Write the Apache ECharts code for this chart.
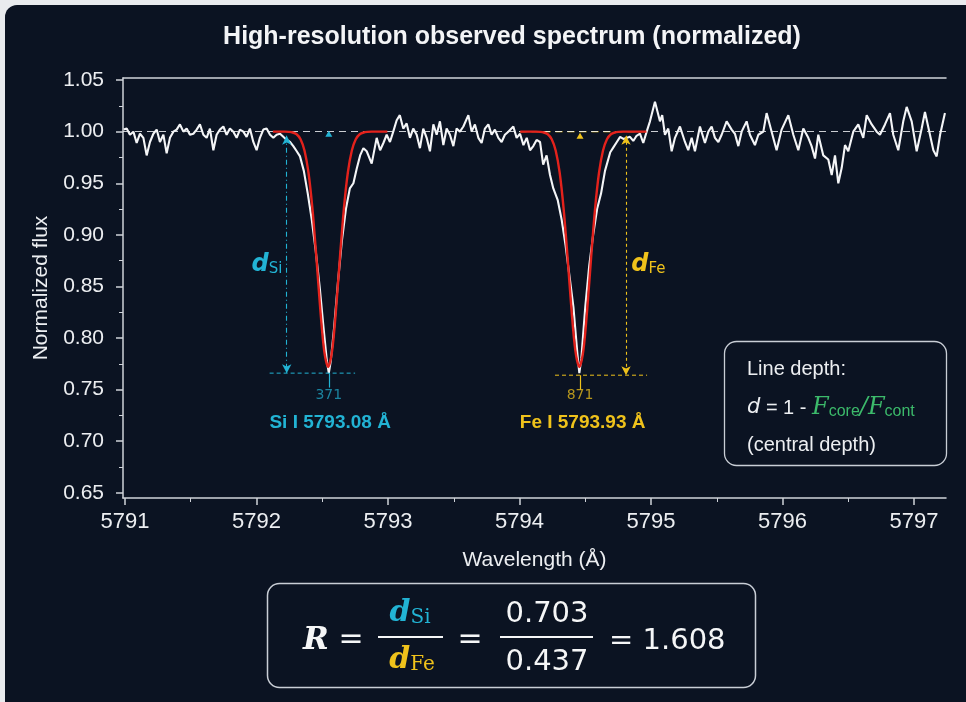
<!DOCTYPE html>
<html>
<head>
<meta charset="utf-8">
<title>High-resolution observed spectrum</title>
<script src="https://cdn.jsdelivr.net/npm/echarts@6.0.0/dist/echarts.min.js"></script>
<style>
  html, body { margin: 0; padding: 0; background: #e9ebee; }
  #panel { position: absolute; left: 5px; top: 5px; width: 980px; height: 720px; border-radius: 12px; background: #0b1322; }
  #chart { position: absolute; left: 0; top: 0; width: 966px; height: 702px; }
</style>
</head>
<body>
<div id="panel"></div>
<div id="chart"></div>
<script>
// axis ticks
const wavelengthTicks = [5791, 5792, 5793, 5794, 5795, 5796, 5797]
const wavelengthMinorTicks = [5791.5, 5792.5, 5793.5, 5794.5, 5795.5, 5796.5]
const fluxTicks = [0.65, 0.70, 0.75, 0.80, 0.85, 0.90, 0.95, 1.00, 1.05]
const fluxMinorTicks = [0.675, 0.725, 0.775, 0.825, 0.875, 0.925, 0.975, 1.025]

// observed spectrum [wavelength, normalized flux]
const spectrum = [
  [5790.99, 1.002], [5791.013, 1.003], [5791.038, 0.997], [5791.064, 1.000], [5791.089, 0.989],
  [5791.114, 0.998], [5791.14, 0.994], [5791.165, 0.977], [5791.19, 0.990], [5791.216, 0.998],
  [5791.241, 1.002], [5791.266, 0.990], [5791.292, 0.997], [5791.317, 0.979], [5791.342, 0.994],
  [5791.368, 1.000], [5791.393, 1.002], [5791.418, 1.007], [5791.444, 1.000], [5791.469, 1.003],
  [5791.494, 0.997], [5791.52, 0.998], [5791.545, 1.002], [5791.57, 1.007], [5791.596, 0.997],
  [5791.621, 0.994], [5791.646, 1.003], [5791.672, 0.982], [5791.697, 0.997], [5791.722, 1.002],
  [5791.748, 1.005], [5791.773, 0.997], [5791.798, 1.003], [5791.824, 1.000], [5791.849, 0.994],
  [5791.874, 1.002], [5791.9, 1.000], [5791.925, 0.995], [5791.95, 1.003], [5791.976, 0.990],
  [5792.001, 0.982], [5792.026, 0.994], [5792.052, 1.002], [5792.077, 1.003], [5792.103, 0.997],
  [5792.128, 0.994], [5792.153, 0.997], [5792.179, 0.998], [5792.204, 0.995], [5792.23, 0.992],
  [5792.255, 0.990], [5792.28, 0.986], [5792.306, 0.981], [5792.331, 0.976], [5792.36, 0.962],
  [5792.39, 0.940], [5792.42, 0.915], [5792.45, 0.885], [5792.48, 0.850], [5792.51, 0.810],
  [5792.535, 0.778], [5792.55, 0.766], [5792.565, 0.778], [5792.59, 0.810], [5792.62, 0.855],
  [5792.65, 0.895], [5792.68, 0.925], [5792.71, 0.945], [5792.737, 0.950], [5792.762, 0.964],
  [5792.788, 0.977], [5792.813, 0.984], [5792.838, 0.981], [5792.876, 0.969], [5792.914, 0.994],
  [5792.94, 0.982], [5792.965, 0.989], [5792.99, 0.997], [5793.015, 0.990], [5793.04, 1.000],
  [5793.066, 1.011], [5793.09, 1.016], [5793.116, 1.003], [5793.142, 1.008], [5793.167, 0.994],
  [5793.192, 1.003], [5793.218, 0.997], [5793.243, 0.984], [5793.268, 1.003], [5793.294, 0.994],
  [5793.319, 0.981], [5793.345, 1.007], [5793.37, 0.997], [5793.395, 1.010], [5793.421, 0.987],
  [5793.446, 1.003], [5793.471, 0.997], [5793.497, 0.986], [5793.522, 1.003], [5793.547, 1.000],
  [5793.573, 1.005], [5793.611, 1.016], [5793.636, 1.000], [5793.661, 1.007], [5793.687, 0.994],
  [5793.712, 0.989], [5793.737, 1.003], [5793.763, 1.007], [5793.788, 0.997], [5793.813, 1.002],
  [5793.839, 0.994], [5793.864, 0.990], [5793.889, 0.997], [5793.915, 1.000], [5793.953, 1.005],
  [5793.978, 0.994], [5794.004, 0.998], [5794.03, 0.987], [5794.055, 0.994], [5794.08, 0.982],
  [5794.105, 0.986], [5794.13, 0.992], [5794.156, 0.990], [5794.18, 0.968], [5794.206, 0.977],
  [5794.232, 0.958], [5794.257, 0.945], [5794.29, 0.934], [5794.32, 0.915], [5794.35, 0.890],
  [5794.38, 0.860], [5794.41, 0.830], [5794.44, 0.785], [5794.455, 0.766], [5794.47, 0.780],
  [5794.50, 0.830], [5794.53, 0.870], [5794.56, 0.900], [5794.59, 0.925], [5794.62, 0.940],
  [5794.65, 0.962], [5794.69, 0.980], [5794.715, 0.985], [5794.74, 0.990], [5794.765, 0.995],
  [5794.79, 0.993], [5794.84, 0.995], [5794.865, 0.991], [5794.89, 0.996], [5794.916, 0.998],
  [5794.941, 0.989], [5794.967, 1.000], [5794.992, 1.010], [5795.03, 1.029], [5795.068, 1.010],
  [5795.085, 1.016], [5795.106, 0.997], [5795.131, 1.003], [5795.157, 0.981], [5795.182, 0.994],
  [5795.22, 1.005], [5795.258, 0.990], [5795.283, 0.982], [5795.309, 0.994], [5795.334, 0.981],
  [5795.372, 1.005], [5795.41, 0.989], [5795.436, 1.000], [5795.461, 1.005], [5795.486, 0.994],
  [5795.512, 0.990], [5795.537, 0.997], [5795.575, 1.010], [5795.613, 1.002], [5795.638, 0.998],
  [5795.664, 0.986], [5795.689, 1.000], [5795.727, 1.010], [5795.752, 0.997], [5795.79, 0.987],
  [5795.816, 0.997], [5795.854, 1.000], [5795.879, 1.018], [5795.917, 1.000], [5795.955, 0.982],
  [5795.993, 1.002], [5796.044, 1.016], [5796.082, 0.997], [5796.12, 0.982], [5796.158, 1.003],
  [5796.196, 0.994], [5796.221, 0.986], [5796.247, 0.974], [5796.272, 0.997], [5796.31, 0.977],
  [5796.348, 0.973], [5796.374, 0.958], [5796.399, 0.977], [5796.424, 0.950], [5796.45, 0.965],
  [5796.475, 0.987], [5796.5, 0.981], [5796.538, 1.000], [5796.576, 1.007], [5796.614, 0.994],
  [5796.64, 1.016], [5796.678, 1.007], [5796.716, 1.000], [5796.741, 0.997], [5796.779, 1.007],
  [5796.817, 1.018], [5796.842, 0.997], [5796.88, 0.982], [5796.918, 1.010], [5796.944, 1.024],
  [5796.982, 1.010], [5797.02, 0.981], [5797.058, 1.003], [5797.083, 1.019], [5797.121, 0.997],
  [5797.147, 0.982], [5797.172, 0.976], [5797.198, 0.997], [5797.235, 1.018]
]

// gaussian fits (red), sampled values
const siFit = [
  [5792.125, 1.000], [5792.155, 1.000], [5792.185, 1.000], [5792.215, 1.000], [5792.245, 0.9998],
  [5792.275, 0.9992], [5792.305, 0.9975], [5792.335, 0.9927], [5792.365, 0.9818], [5792.395, 0.9607],
  [5792.425, 0.9260], [5792.455, 0.8789], [5792.485, 0.8279], [5792.515, 0.7875], [5792.545, 0.7720],
  [5792.575, 0.7875], [5792.605, 0.8279], [5792.635, 0.8789], [5792.665, 0.9260], [5792.695, 0.9607],
  [5792.725, 0.9818], [5792.755, 0.9927], [5792.785, 0.9975], [5792.815, 0.9992], [5792.845, 0.9998],
  [5792.875, 1.000], [5792.905, 1.000], [5792.935, 1.000], [5792.965, 1.000], [5792.995, 1.000]
]
const feFit = [
  [5794.005, 1.000], [5794.035, 1.000], [5794.065, 1.000], [5794.095, 1.000], [5794.125, 1.000],
  [5794.155, 0.9998], [5794.185, 0.9992], [5794.215, 0.9975], [5794.245, 0.9927], [5794.275, 0.9818],
  [5794.305, 0.9607], [5794.335, 0.9260], [5794.365, 0.8789], [5794.395, 0.8279], [5794.425, 0.7875],
  [5794.455, 0.7720], [5794.485, 0.7875], [5794.515, 0.8279], [5794.545, 0.8789], [5794.575, 0.9260],
  [5794.605, 0.9607], [5794.635, 0.9818], [5794.665, 0.9927], [5794.695, 0.9975], [5794.725, 0.9992],
  [5794.755, 0.9998], [5794.785, 1.000], [5794.815, 1.000], [5794.845, 1.000], [5794.875, 1.000],
  [5794.905, 1.000], [5794.935, 1.000], [5794.965, 1.000]
]

// line annotations
const continuum = 1.0
const siCenter = 5792.55
const feCenter = 5794.46
const siCore = 0.766
const feCore = 0.764
const siArrowX = 5792.23
const feArrowX = 5794.81
const siCoreSpan = [5792.10, 5792.75]
const feCoreSpan = [5794.27, 5794.97]
const feContSpan = [5794.0, 5794.95]

const cyan = '#22b3d4'
const yellow = '#efc21b'
const green = '#3cba6b'
const red = '#e3221c'
const axisColor = '#cfd3d9'
const textColor = '#eceef1'

const chart = echarts.init(document.getElementById('chart'))

const xMin = 5790.985
const xMax = 5797.243
const yMin = 0.645
const yMax = 1.052

const plainAxis = {
  axisLine: { show: false },
  axisTick: { show: false },
  axisLabel: { show: false },
  splitLine: { show: false }
}

const option = {
  animation: false,
  backgroundColor: 'transparent',
  grid: { left: 123, right: 20, top: 78, bottom: 204 },
  xAxis: [
    {
      type: 'value', min: xMin, max: xMax, position: 'bottom',
      axisLine: { onZero: false, lineStyle: { color: axisColor, width: 1.5 } },
      axisTick: { customValues: wavelengthTicks, length: 7, lineStyle: { color: axisColor, width: 1.5 } },
      axisLabel: {
        customValues: wavelengthTicks, color: textColor, fontSize: 22, margin: 13, fontFamily: 'Liberation Sans',
        formatter: v => String(Math.round(v))
      },
      splitLine: { show: false },
      name: 'Wavelength (Å)', nameLocation: 'middle', nameGap: 52,
      nameTextStyle: { color: textColor, fontSize: 21, fontFamily: 'Liberation Sans' }
    },
    {
      type: 'value', min: xMin, max: xMax, position: 'bottom',
      axisLine: { show: false, onZero: false },
      axisTick: { customValues: wavelengthMinorTicks, length: 4, lineStyle: { color: axisColor, width: 1 } },
      axisLabel: { show: false },
      splitLine: { show: false }
    },
    Object.assign({ type: 'value', min: xMin, max: xMax, position: 'top' }, plainAxis,
      { axisLine: { show: true, onZero: false, lineStyle: { color: axisColor, width: 1.5 } } })
  ],
  yAxis: [
    {
      type: 'value', min: yMin, max: yMax, position: 'left',
      axisLine: { show: true, onZero: false, lineStyle: { color: axisColor, width: 1.5 } },
      axisTick: { show: true, customValues: fluxTicks, length: 7, lineStyle: { color: axisColor, width: 1.5 } },
      axisLabel: {
        customValues: fluxTicks, color: textColor, fontSize: 21, margin: 19, fontFamily: 'Liberation Sans',
        formatter: v => v.toFixed(2)
      },
      splitLine: { show: false },
      name: 'Normalized flux', nameLocation: 'middle', nameGap: 71,
      nameTextStyle: { color: textColor, fontSize: 21, fontFamily: 'Liberation Sans' }
    },
    {
      type: 'value', min: yMin, max: yMax, position: 'left',
      axisLine: { show: false, onZero: false },
      axisTick: { show: true, customValues: fluxMinorTicks, length: 4, lineStyle: { color: axisColor, width: 1 } },
      axisLabel: { show: false },
      splitLine: { show: false }
    }
  ],
  graphic: [
    {
      type: 'text', x: 512, y: 37, silent: true,
      style: { text: 'High-resolution observed spectrum (normalized)', fill: '#f3f4f6', font: 'bold 25px "Liberation Sans"', align: 'center', verticalAlign: 'middle' }
    },
    // line depth legend box
    { type: 'rect', shape: { x: 724.5, y: 341.5, width: 222, height: 124, r: 12 }, style: { fill: '#0b1322', stroke: '#c9ced6', lineWidth: 1.3 }, silent: true },
    { type: 'text', x: 747, y: 369, silent: true, style: { text: 'Line depth:', fill: textColor, font: '20px "Liberation Sans"', verticalAlign: 'middle' } },
    {
      type: 'text', x: 747, y: 408, silent: true,
      style: {
        text: '{d|d}{t| = 1 - }{F|F}{s|core}{F|/F}{s|cont}',
        verticalAlign: 'middle',
        rich: {
          d: { fill: textColor, font: 'italic 21px "DejaVu Sans"' },
          t: { fill: textColor, font: '20px "Liberation Sans"' },
          F: { fill: green, font: 'italic 24px "DejaVu Serif"' },
          s: { fill: green, font: '16px "Liberation Sans"', lineHeight: 6, verticalAlign: 'bottom' }
        }
      }
    },
    { type: 'text', x: 747, y: 445, silent: true, style: { text: '(central depth)', fill: textColor, font: '20px "Liberation Sans"', verticalAlign: 'middle' } },
    // ratio box
    { type: 'rect', shape: { x: 267.5, y: 583.5, width: 488, height: 104, r: 12 }, style: { fill: '#0b1322', stroke: '#c9ced6', lineWidth: 1.5 }, silent: true },
    { type: 'text', x: 316, y: 641, silent: true, style: { text: 'R', fill: '#f5f6f7', font: 'italic bold 31px "DejaVu Serif"', align: 'center', verticalAlign: 'middle' } },
    { type: 'text', x: 351, y: 640, silent: true, style: { text: '=', fill: '#f5f6f7', font: '30px "DejaVu Sans"', align: 'center', verticalAlign: 'middle' } },
    {
      type: 'text', x: 410, y: 613, silent: true,
      style: {
        text: '{d|d}{s|Si}', align: 'center', verticalAlign: 'middle',
        rich: {
          d: { fill: cyan, font: 'italic bold 30px "DejaVu Serif"' },
          s: { fill: cyan, font: '20px "DejaVu Serif"', lineHeight: 10, verticalAlign: 'bottom' }
        }
      }
    },
    { type: 'line', shape: { x1: 378, y1: 637, x2: 443, y2: 637 }, style: { stroke: '#f5f6f7', lineWidth: 1.8 }, silent: true },
    {
      type: 'text', x: 412, y: 660, silent: true,
      style: {
        text: '{d|d}{s|Fe}', align: 'center', verticalAlign: 'middle',
        rich: {
          d: { fill: yellow, font: 'italic bold 30px "DejaVu Serif"' },
          s: { fill: yellow, font: '20px "DejaVu Serif"', lineHeight: 10, verticalAlign: 'bottom' }
        }
      }
    },
    { type: 'text', x: 470, y: 640, silent: true, style: { text: '=', fill: '#f5f6f7', font: '30px "DejaVu Sans"', align: 'center', verticalAlign: 'middle' } },
    { type: 'text', x: 547, y: 614, silent: true, style: { text: '0.703', fill: '#f5f6f7', font: '29px "DejaVu Sans"', align: 'center', verticalAlign: 'middle' } },
    { type: 'line', shape: { x1: 500, y1: 637, x2: 593, y2: 637 }, style: { stroke: '#f5f6f7', lineWidth: 1.8 }, silent: true },
    { type: 'text', x: 547, y: 662, silent: true, style: { text: '0.437', fill: '#f5f6f7', font: '29px "DejaVu Sans"', align: 'center', verticalAlign: 'middle' } },
    { type: 'text', x: 609, y: 641, silent: true, style: { text: '= 1.608', fill: '#f5f6f7', font: '29px "DejaVu Sans"', verticalAlign: 'middle' } }
  ],
  series: [
    {
      name: 'observed', type: 'line', data: spectrum, showSymbol: false, symbol: 'none', z: 3,
      lineStyle: { color: '#f4f5f7', width: 2.1 },
      markLine: {
        silent: true, symbol: 'none', label: { show: false },
        lineStyle: { color: 'rgba(236,238,241,0.85)', width: 1.2, type: [7, 5] },
        data: [{ yAxis: continuum }]
      }
    },
    {
      name: 'Fe continuum', type: 'line', showSymbol: false, symbol: 'none', z: 4,
      data: [[feContSpan[0], continuum], [feContSpan[1], continuum]],
      lineStyle: { color: yellow, width: 1.3, type: [7, 5] }
    },
    {
      name: 'Si fit', type: 'line', data: siFit, showSymbol: false, symbol: 'none', smooth: 0.3, z: 5,
      lineStyle: { color: red, width: 2.4 },
      markLine: {
        silent: true, symbol: ['arrow', 'arrow'], symbolSize: [7, 9], label: { show: false },
        lineStyle: { color: cyan, width: 1.1, type: [5, 3, 1, 3] },
        data: [[{ coord: [siArrowX, continuum - 0.004] }, { coord: [siArrowX, siCore] }]]
      }
    },
    {
      name: 'Fe fit', type: 'line', data: feFit, showSymbol: false, symbol: 'none', smooth: 0.3, z: 5,
      lineStyle: { color: red, width: 2.4 },
      markLine: {
        silent: true, symbol: ['arrow', 'arrow'], symbolSize: [7, 9], label: { show: false },
        lineStyle: { color: yellow, width: 1.1, type: [3, 3] },
        data: [[{ coord: [feArrowX, continuum - 0.004] }, { coord: [feArrowX, feCore] }]]
      }
    },
    {
      name: 'Si core', type: 'line', showSymbol: false, symbol: 'none', z: 4,
      data: [[siCoreSpan[0], siCore], [siCoreSpan[1], siCore]],
      lineStyle: { color: cyan, width: 1, type: [4, 3] },
      markLine: {
        silent: true, symbol: 'none', label: { show: false },
        lineStyle: { color: cyan, width: 1.2, type: 'solid' },
        data: [[{ coord: [siCenter, siCore] }, { coord: [siCenter, siCore - 0.014] }]]
      }
    },
    {
      name: 'Fe core', type: 'line', showSymbol: false, symbol: 'none', z: 4,
      data: [[feCoreSpan[0], feCore], [feCoreSpan[1], feCore]],
      lineStyle: { color: yellow, width: 1, type: [4, 3] },
      markLine: {
        silent: true, symbol: 'none', label: { show: false },
        lineStyle: { color: yellow, width: 1.2, type: 'solid' },
        data: [[{ coord: [feCenter, feCore] }, { coord: [feCenter, feCore - 0.014] }]]
      }
    },
    {
      name: 'centre marks', type: 'scatter', z: 6, symbol: 'triangle', symbolSize: [7, 6],
      itemStyle: { opacity: 1 },
      data: [
        { value: [siCenter, continuum - 0.002], itemStyle: { color: cyan } },
        { value: [feCenter, continuum - 0.004], itemStyle: { color: yellow } }
      ]
    },
    {
      name: 'labels', type: 'scatter', z: 7, symbolSize: 0, silent: true,
      itemStyle: { opacity: 1 },
      label: { show: true, position: 'inside' },
      data: [
        {
          value: [siCenter + 0.01, 0.718],
          label: { formatter: 'Si I 5793.08 Å', color: cyan, fontSize: 19, fontWeight: 'bold', fontFamily: 'Liberation Sans' }
        },
        {
          value: [feCenter + 0.02, 0.718],
          label: { formatter: 'Fe I 5793.93 Å', color: yellow, fontSize: 19, fontWeight: 'bold', fontFamily: 'Liberation Sans' }
        },
        {
          value: [siCenter, 0.744],
          label: { formatter: '371', color: 'rgba(34,179,212,0.7)', fontSize: 14, fontFamily: 'DejaVu Sans' }
        },
        {
          value: [feCenter, 0.744],
          label: { formatter: '871', color: 'rgba(239,194,27,0.75)', fontSize: 14, fontFamily: 'DejaVu Sans' }
        },
        {
          value: [5792.08, 0.871],
          label: {
            formatter: '{d|d}{s|Si}',
            rich: {
              d: { color: cyan, fontSize: 24, fontStyle: 'italic', fontWeight: 'bold', fontFamily: 'DejaVu Sans' },
              s: { color: cyan, fontSize: 15, fontFamily: 'DejaVu Sans', lineHeight: 6, verticalAlign: 'bottom' }
            }
          }
        },
        {
          value: [5794.98, 0.871],
          label: {
            formatter: '{d|d}{s|Fe}',
            rich: {
              d: { color: yellow, fontSize: 24, fontStyle: 'italic', fontWeight: 'bold', fontFamily: 'DejaVu Sans' },
              s: { color: yellow, fontSize: 15, fontFamily: 'DejaVu Sans', lineHeight: 6, verticalAlign: 'bottom' }
            }
          }
        }
      ]
    }
  ]
}

chart.setOption(option)
window.addEventListener('resize', () => chart.resize())
</script>
</body>
</html>
